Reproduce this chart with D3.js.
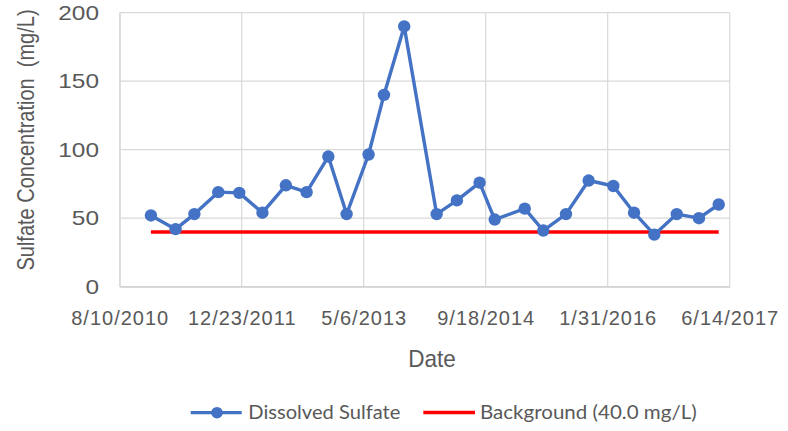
<!DOCTYPE html>
<html>
<head>
<meta charset="utf-8">
<script src="https://cdn.jsdelivr.net/npm/d3@7"></script>
<style>
  body { margin: 0; background: #fff; }
  text { fill: #595959; }
</style>
</head>
<body>
<svg id="chart" width="788" height="431"></svg>
<script>
// sample dates and dissolved sulfate (mg/L)
var sampleDates = ["2010-12-16","2011-03-27","2011-06-12","2011-09-18","2011-12-13","2012-03-17",
  "2012-06-21","2012-09-14","2012-12-12","2013-02-25","2013-05-26","2013-07-28","2013-10-19",
  "2014-03-01","2014-05-23","2014-08-24","2014-10-25","2015-02-25","2015-05-12","2015-08-13",
  "2015-11-14","2016-02-23","2016-05-18","2016-08-09","2016-11-09","2017-02-08","2017-04-30"];
var sulfate = [52, 42, 53, 69, 68.5, 54, 74, 69, 95, 53, 96.5, 140, 190, 53, 63, 76, 49, 57, 41,
  53, 77.5, 73.5, 54, 38, 53, 50, 60];
var background = 40;
var xTickDates = ["2010-08-10","2011-12-23","2013-05-06","2014-09-18","2016-01-31","2017-06-14"];
var yTicks = [0, 50, 100, 150, 200];

var parse = d3.utcParse("%Y-%m-%d");
var fmt = d3.utcFormat("%-m/%-d/%Y");

var svg = d3.select("#chart");
// plot area edges (note: "top" is reserved on window)
var plotL = 119.7, plotR = 729.7, plotT = 12.7, plotB = 286.7;

var x = d3.scaleUtc()
	.domain([parse(xTickDates[0]), parse(xTickDates[xTickDates.length-1])])
	.range([plotL, plotR]);
var y = d3.scaleLinear().domain([0, 200]).range([plotB, plotT]);

var points = sampleDates.map(function(d, i){ return { date: parse(d), value: sulfate[i] }; });

// gridlines
var grid = svg.append("g");
grid.selectAll(".hgrid").data(yTicks).enter().append("line")
	.attr("x1", plotL).attr("x2", plotR)
	.attr("y1", function(d){ return y(d); }).attr("y2", function(d){ return y(d); })
	.attr("stroke", "#d9d9d9").attr("stroke-width", 1.2);
grid.selectAll(".vgrid").data(xTickDates).enter().append("line")
	.attr("x1", function(d){ return x(parse(d)); }).attr("x2", function(d){ return x(parse(d)); })
	.attr("y1", plotT).attr("y2", plotB)
	.attr("stroke", "#d9d9d9").attr("stroke-width", 1.2);

// axes
var xAxis = svg.append("g")
	.attr("transform", "translate(0," + plotB + ")")
	.call(d3.axisBottom(x).tickValues(xTickDates.map(parse)).tickFormat(fmt).tickSize(0));
xAxis.select(".domain").attr("stroke", "#d0d0d0").attr("stroke-width", 1.2);
xAxis.selectAll("text")
	.attr("y", 38).attr("dy", null)
	.style("font-family", "'Liberation Sans', Arial, sans-serif")
	.style("font-size", "20px")
	.style("letter-spacing", "1px")
	.attr("fill", "#595959");

var yAxis = svg.append("g")
	.attr("transform", "translate(" + plotL + ",0)")
	.call(d3.axisLeft(y).tickValues(yTicks).tickSize(0));
yAxis.select(".domain").attr("stroke", "#d9d9d9").attr("stroke-width", 1.2);
yAxis.selectAll("text")
	.attr("x", -17)
	.attr("transform", "scale(1.22,1)")
	.style("font-family", "'Liberation Sans', Arial, sans-serif")
	.style("font-size", "20px")
	.attr("fill", "#595959");

// axis titles
svg.append("text")
	.attr("transform", "translate(33.5,140) scale(1.2,1) rotate(-90)")
	.attr("text-anchor", "middle")
	.style("white-space", "pre")
	.style("font-family", "'Liberation Sans', Arial, sans-serif")
	.style("font-size", "20px")
	.text("Sulfate Concentration  (mg/L)");

svg.append("text")
	.attr("transform", "translate(432,367.3) scale(0.94,1)")
	.attr("text-anchor", "middle")
	.style("font-family", "'Liberation Sans', Arial, sans-serif")
	.style("font-size", "24px")
	.text("Date");

// background line
var bgData = [points[0].date, points[points.length-1].date];
svg.append("line")
	.attr("x1", x(bgData[0])).attr("x2", x(bgData[1]))
	.attr("y1", y(background)).attr("y2", y(background))
	.attr("stroke", "#ff0000").attr("stroke-width", 3.5);

// sulfate series
var line = d3.line()
	.x(function(d){ return x(d.date); })
	.y(function(d){ return y(d.value); });
svg.append("path").datum(points)
	.attr("d", line)
	.attr("fill", "none")
	.attr("stroke", "#4472c4")
	.attr("stroke-width", 3.4)
	.attr("stroke-linejoin", "round");
svg.selectAll(".dot").data(points).enter().append("circle")
	.attr("cx", function(d){ return x(d.date); })
	.attr("cy", function(d){ return y(d.value); })
	.attr("r", 6.2)
	.attr("fill", "#4472c4");

// legend
var legend = svg.append("g");
legend.append("line")
	.attr("x1", 190.7).attr("x2", 241.7).attr("y1", 412.7).attr("y2", 412.7)
	.attr("stroke", "#4472c4").attr("stroke-width", 3.2);
legend.append("circle").attr("cx", 217).attr("cy", 412.7).attr("r", 5.8).attr("fill", "#4472c4");
legend.append("text")
	.attr("x", 248.3).attr("y", 418.5)
	.attr("textLength", 152).attr("lengthAdjust", "spacingAndGlyphs")
	.style("font-family", "Lato, 'Open Sans', sans-serif")
	.style("font-size", "18.5px")
	.text("Dissolved Sulfate");
legend.append("line")
	.attr("x1", 423.3).attr("x2", 475).attr("y1", 412.5).attr("y2", 412.5)
	.attr("stroke", "#ff0000").attr("stroke-width", 3.5);
legend.append("text")
	.attr("x", 480).attr("y", 418.5)
	.attr("textLength", 216.7).attr("lengthAdjust", "spacingAndGlyphs")
	.style("font-family", "Lato, 'Open Sans', sans-serif")
	.style("font-size", "18.5px")
	.text("Background (40.0 mg/L)");
</script>
</body>
</html>
